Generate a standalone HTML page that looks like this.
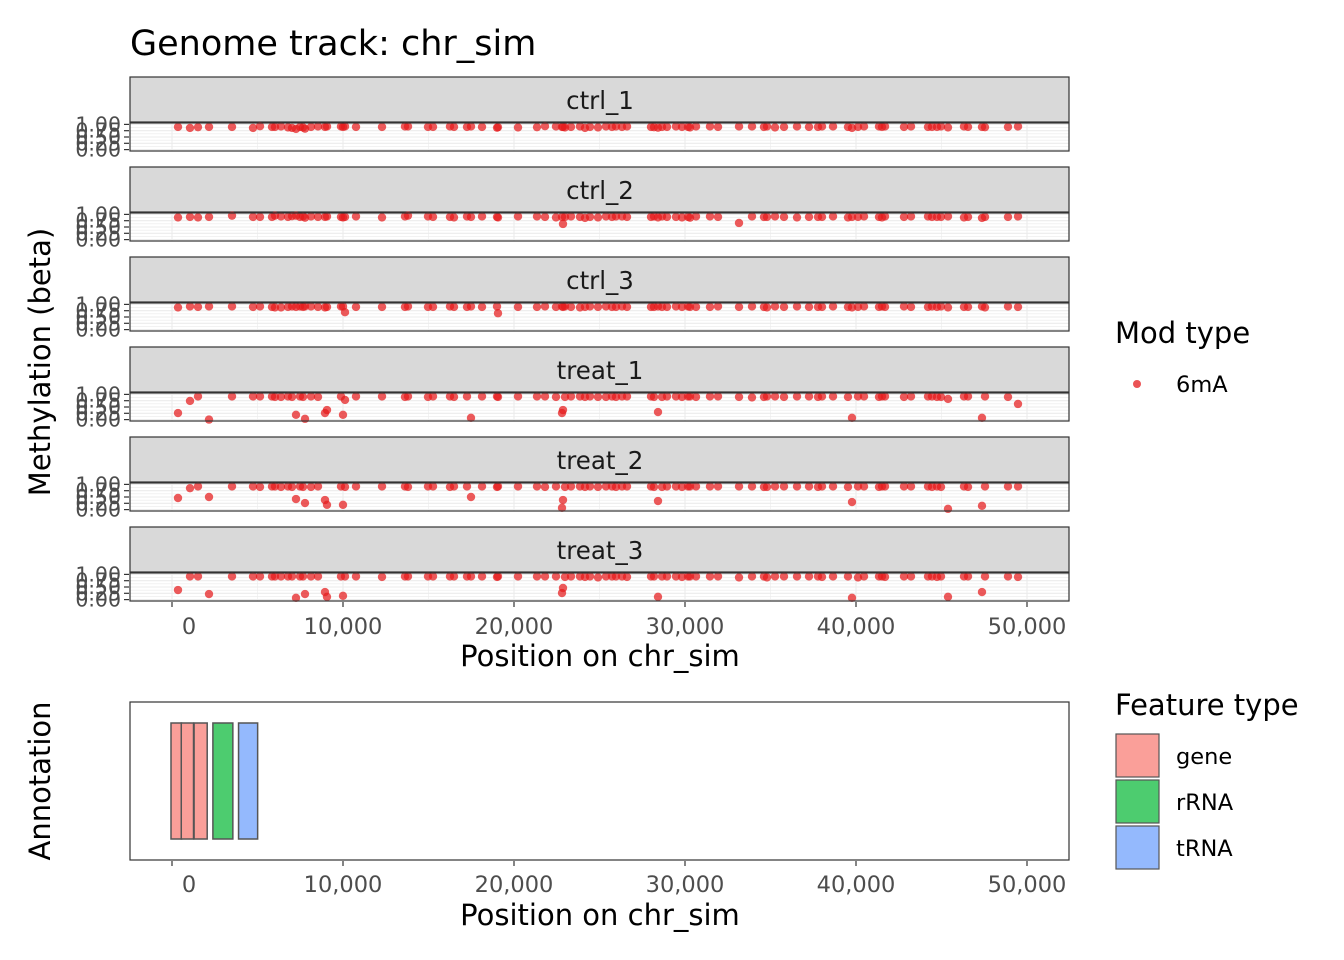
<!DOCTYPE html>
<html><head><meta charset="utf-8"><style>
body{margin:0;background:#fff;}
svg{display:block;font-family:"DejaVu Sans","Liberation Sans",sans-serif;}
</style></head><body>
<svg id="chart" width="1344" height="960" viewBox="0 0 1344 960">
<text x="130" y="55" font-size="35" fill="#000">Genome track: chr_sim</text>
<g id="panels"></g>
<g id="annot"></g>
<text transform="translate(50,362) rotate(-90)" text-anchor="middle" font-size="29">Methylation (beta)</text>
<text x="600" y="666" text-anchor="middle" font-size="29">Position on chr_sim</text>
<text transform="translate(50,781) rotate(-90)" text-anchor="middle" font-size="29">Annotation</text>
<text x="600" y="925" text-anchor="middle" font-size="29">Position on chr_sim</text>
<g>
<text x="1115" y="343" font-size="29">Mod type</text>
<circle cx="1137" cy="384" r="4" fill="#e41a1c" fill-opacity="0.75"/>
<text x="1176" y="392" font-size="22.5">6mA</text>
</g>
<g>
<text x="1115" y="715" font-size="29">Feature type</text>
<rect x="1116" y="734" width="43" height="43" fill="#fa9f99" stroke="#555" stroke-width="1.2"/>
<rect x="1116" y="780" width="43" height="43" fill="#4dcc6f" stroke="#555" stroke-width="1.2"/>
<rect x="1116" y="826" width="43" height="43" fill="#94b9fd" stroke="#555" stroke-width="1.2"/>
<text x="1176" y="764" font-size="22.5">gene</text>
<text x="1176" y="810" font-size="22.5">rRNA</text>
<text x="1176" y="856" font-size="22.5">tRNA</text>
</g>
</svg>
<script>
const samples = ["ctrl_1","ctrl_2","ctrl_3","treat_1","treat_2","treat_3"];
const sitePos = [351,1053,1520,2164,3509,4737,5146,5848,6023,6374,6784,7018,7251,7485,7661,7778,8129,8538,8947,9064,9883,10000,10117,10760,12281,13626,13801,14971,15263,16257,16491,17251,17485,18129,19006,19064,20234,21345,21813,22456,22807,22865,22982,23333,23860,24152,24444,24912,25380,25731,25965,26316,26608,28012,28187,28421,28655,28947,29474,29825,30175,30292,30643,31462,31930,33158,33918,34620,34795,35263,35789,36550,37251,37778,38012,38655,39532,39766,40117,40468,41345,41520,41696,42807,43216,44211,44444,44737,44971,45380,46316,46550,47368,47544,48889,49474];
const betaCtrl1 = [0.9,0.86,0.89,0.9,0.9,0.86,0.93,0.9,0.9,0.92,0.88,0.86,0.82,0.9,0.88,0.83,0.9,0.92,0.9,0.92,0.92,0.9,0.92,0.9,0.9,0.92,0.92,0.9,0.9,0.92,0.9,0.9,0.92,0.9,0.87,0.89,0.88,0.89,0.93,0.92,0.9,0.9,0.88,0.9,0.92,0.86,0.9,0.88,0.92,0.9,0.92,0.9,0.92,0.9,0.89,0.87,0.9,0.9,0.92,0.9,0.9,0.88,0.92,0.92,0.9,0.92,0.92,0.9,0.92,0.88,0.9,0.92,0.9,0.9,0.92,0.92,0.9,0.86,0.9,0.92,0.92,0.9,0.92,0.9,0.92,0.9,0.9,0.9,0.92,0.88,0.92,0.9,0.9,0.89,0.9,0.92];
const betaCtrl2 = [0.88,0.9,0.88,0.9,0.95,0.9,0.9,0.9,0.95,0.92,0.9,0.93,0.95,0.9,0.92,0.87,0.92,0.9,0.9,0.92,0.9,0.88,0.9,0.92,0.88,0.92,0.95,0.92,0.9,0.9,0.88,0.92,0.9,0.92,0.9,0.88,0.92,0.92,0.9,0.88,0.9,0.62,0.9,0.92,0.9,0.86,0.9,0.88,0.92,0.9,0.92,0.92,0.9,0.9,0.92,0.88,0.92,0.9,0.9,0.88,0.9,0.87,0.92,0.92,0.9,0.66,0.92,0.9,0.9,0.92,0.9,0.88,0.9,0.9,0.9,0.92,0.88,0.9,0.9,0.92,0.9,0.88,0.92,0.9,0.92,0.92,0.9,0.9,0.9,0.92,0.88,0.9,0.86,0.9,0.9,0.92];
const betaCtrl3 = [0.88,0.92,0.9,0.92,0.92,0.9,0.92,0.9,0.88,0.88,0.9,0.92,0.9,0.92,0.9,0.92,0.92,0.9,0.88,0.9,0.92,0.92,0.69,0.9,0.9,0.9,0.92,0.9,0.9,0.92,0.9,0.9,0.92,0.9,0.92,0.65,0.9,0.9,0.92,0.9,0.92,0.9,0.92,0.9,0.88,0.9,0.92,0.9,0.92,0.9,0.9,0.92,0.9,0.9,0.9,0.92,0.9,0.9,0.92,0.9,0.92,0.9,0.9,0.9,0.92,0.9,0.92,0.9,0.88,0.92,0.9,0.92,0.9,0.9,0.9,0.92,0.9,0.88,0.9,0.92,0.9,0.92,0.9,0.92,0.9,0.9,0.92,0.9,0.92,0.88,0.9,0.9,0.92,0.88,0.92,0.9];
const betaTreat1 = [0.26,0.74,0.92,0.0,0.92,0.92,0.92,0.92,0.9,0.9,0.92,0.9,0.19,0.92,0.9,0.03,0.92,0.9,0.26,0.38,0.92,0.19,0.78,0.92,0.92,0.9,0.92,0.9,0.92,0.92,0.9,0.92,0.07,0.92,0.92,0.9,0.92,0.92,0.92,0.9,0.26,0.38,0.9,0.92,0.92,0.9,0.92,0.9,0.9,0.92,0.9,0.92,0.92,0.92,0.9,0.30,0.9,0.92,0.92,0.9,0.92,0.92,0.9,0.92,0.92,0.9,0.88,0.9,0.92,0.92,0.9,0.92,0.92,0.9,0.92,0.92,0.9,0.07,0.92,0.92,0.9,0.92,0.92,0.9,0.92,0.92,0.92,0.9,0.9,0.82,0.92,0.92,0.07,0.92,0.9,0.62];
const betaTreat2 = [0.46,0.85,0.92,0.5,0.92,0.92,0.9,0.92,0.92,0.9,0.92,0.9,0.42,0.92,0.9,0.26,0.9,0.92,0.38,0.19,0.92,0.19,0.9,0.92,0.92,0.92,0.9,0.92,0.92,0.9,0.92,0.92,0.5,0.92,0.9,0.92,0.92,0.92,0.9,0.92,0.07,0.38,0.9,0.92,0.92,0.9,0.92,0.9,0.92,0.92,0.9,0.92,0.92,0.92,0.9,0.34,0.9,0.92,0.92,0.9,0.92,0.92,0.92,0.92,0.92,0.92,0.92,0.9,0.9,0.92,0.92,0.92,0.92,0.9,0.92,0.92,0.9,0.30,0.92,0.92,0.9,0.92,0.92,0.92,0.92,0.92,0.9,0.92,0.9,0.03,0.92,0.9,0.15,0.92,0.92,0.92];
const betaTreat3 = [0.38,0.92,0.92,0.22,0.92,0.92,0.92,0.92,0.92,0.92,0.92,0.92,0.07,0.92,0.92,0.22,0.92,0.92,0.30,0.11,0.92,0.15,0.92,0.92,0.9,0.92,0.92,0.92,0.92,0.92,0.92,0.92,0.92,0.92,0.9,0.92,0.92,0.92,0.92,0.92,0.26,0.46,0.9,0.92,0.92,0.9,0.92,0.88,0.92,0.92,0.92,0.92,0.9,0.92,0.92,0.11,0.92,0.92,0.92,0.9,0.92,0.92,0.92,0.92,0.92,0.88,0.92,0.92,0.88,0.92,0.92,0.92,0.92,0.92,0.9,0.92,0.92,0.07,0.88,0.92,0.92,0.92,0.9,0.92,0.92,0.92,0.92,0.9,0.92,0.11,0.92,0.92,0.30,0.92,0.92,0.9];
const betas = [betaCtrl1,betaCtrl2,betaCtrl3,betaTreat1,betaTreat2,betaTreat3];
const xTicks = [0,10000,20000,30000,40000,50000];
const xTickLabels = ["0","10,000","20,000","30,000","40,000","50,000"];
const yTickLabels = ["0.00","0.25","0.50","0.75","1.00"];
const yTicks = [0,0.25,0.5,0.75,1];
const featStart = [0,600,1350,2450,3950];
const featEnd = [500,1200,2000,3500,4950];
const featType = ["gene","gene","gene","rRNA","tRNA"];
const featColor = {gene:"#fa9f99",rRNA:"#4dcc6f",tRNA:"#94b9fd"};

const NS="http://www.w3.org/2000/svg";
const X0=130, X1=1069;
function xs(v){return 172 + v*171/10000;}
function mk(tag,attrs,parent){const e=document.createElementNS(NS,tag);for(const k in attrs)e.setAttribute(k,attrs[k]);parent.appendChild(e);return e;}
const P=document.getElementById('panels');
samples.forEach((s,i)=>{
  const st=77+i*90, pt=st+46, pb=pt+28;
  const ys=v=>pt+1.4+(1-v)*25.2;
  const strip=mk('rect',{x:X0,y:st,width:X1-X0,height:45,fill:'#d9d9d9',stroke:'#333','stroke-width':1.2},P);
  
  
  const lab=mk('text',{x:600,y:st+32,'text-anchor':'middle','font-size':24.5,fill:'#1a1a1a'},P);
  lab.textContent=s;
  
  
  const bg=mk('rect',{x:X0,y:pt,width:X1-X0,height:pb-pt,fill:'#fff'},P);
  
  
  for(let k=0;k<=8;k++){const yy=ys(k/8);const g=mk('line',{x1:X0,x2:X1,y1:yy,y2:yy,stroke:'#ebebeb','stroke-width':k%2?0.6:1.1},P);
    
    }
  for(let k=0;k<=10;k++){const xx=xs(k*5000);const g=mk('line',{x1:xx,x2:xx,y1:pt,y2:pb,stroke:'#ebebeb','stroke-width':k%2?0.6:1.1},P);
    
    }
  betas[i].forEach((b,j)=>{const c=mk('circle',{cx:xs(sitePos[j]),cy:ys(b),r:4.2,fill:'#e41a1c','fill-opacity':0.72},P);
    
    });
  const fr=mk('rect',{x:X0,y:pt,width:X1-X0,height:pb-pt,fill:'none',stroke:'#333','stroke-width':1.2},P);
  
  
  yTicks.forEach((t,k)=>{const yy=ys(t);
    const tk=mk('line',{x1:124,x2:129,y1:yy,y2:yy,stroke:'#333','stroke-width':1.2},P);
    
    
    const tl=mk('text',{x:121,y:yy+7,'text-anchor':'end','font-size':20.5,fill:'#4d4d4d'},P);
    tl.textContent=yTickLabels[k];
    
    });
});
function xAxis(yb,lblY){
  xTicks.forEach((t,k)=>{const xx=xs(t);
    const tk=mk('line',{x1:xx,x2:xx,y1:yb,y2:yb+5,stroke:'#333','stroke-width':1.2},P);
    
    
    const tl=mk('text',{x:k==0?xx+17:xx,y:lblY,'text-anchor':'middle','font-size':22.5,fill:'#4d4d4d'},P);
    tl.textContent=xTickLabels[k];
    
    });
}
xAxis(602,634);
const A=document.getElementById('annot');
const ap=mk('rect',{x:X0,y:702,width:X1-X0,height:158,fill:'#fff',stroke:'#333','stroke-width':1.2},A);


featStart.forEach((s0,k)=>{const r=mk('rect',{x:xs(s0)-1,y:723,width:xs(featEnd[k])-xs(s0)+2,height:116,fill:featColor[featType[k]],stroke:'#555','stroke-width':1.5},A);
  
  });
xAxis(861,892);
</script>
</body></html>
